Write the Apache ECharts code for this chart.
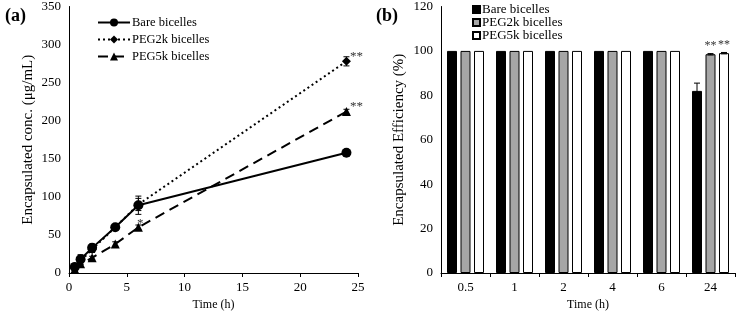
<!DOCTYPE html>
<html>
<head>
<meta charset="utf-8">
<script src="https://cdn.jsdelivr.net/npm/echarts@6/dist/echarts.min.js"></script>
<style>
  html, body { margin: 0; padding: 0; background: #fff; }
  #main { width: 737px; height: 316px; }
</style>
</head>
<body>
<div id="main"></div>
<script>
// (a) encapsulated concentration vs time
var timeH = [0.5, 1, 2, 4, 6, 24]
var bareConc = [8, 18, 33, 60, 89, 158]
var bareConcErr = [3, 6, 5, 2, 12, 2]
var peg2kConc = [7, 16, 31, 60, 90, 278]
var peg2kConcErr = [2, 5, 4, 2, 8, 6]
var peg5kConc = [5, 12, 20, 38, 60, 212]
var peg5kConcErr = [2, 3, 2, 3, 3, 3]
var peg2kSigA = ['', '', '', '', '', '**']
var peg5kSigA = ['', '', '', '', '*', '**']

// (b) encapsulation efficiency per time point
var timeCats = ['0.5', '1', '2', '4', '6', '24']
var bareEff = [100, 100, 100, 100, 100, 82]
var bareEffErr = [0, 0, 0, 0, 0, 3.5]
var peg2kEff = [100, 100, 100, 100, 100, 98.5]
var peg2kEffErr = [0, 0, 0, 0, 0, 0.3]
var peg5kEff = [100, 100, 100, 100, 100, 99]
var peg5kEffErr = [0, 0, 0, 0, 0, 0.3]
var peg2kSigB = ['', '', '', '', '', '**']
var peg5kSigB = ['', '', '', '', '', '**']

var FONT = 'Liberation Serif'

function pairs (xs, ys) {
  return xs.map(function (x, i) { return [x, ys[i]] })
}

function errData (xs, ys, es) {
  return xs.map(function (x, i) { return [x, ys[i], es[i]] })
}

// error bar drawer; offset shifts bar groups sideways in panel (b)
function errRender (offset) {
  return function (params, api) {
    var e = api.value(2)
    if (!e) return null
    var hi = api.coord([api.value(0), api.value(1) + e])
    var lo = api.coord([api.value(0), api.value(1) - e])
    var x = hi[0] + offset
    var st = { stroke: '#000', lineWidth: 1 }
    return {
      type: 'group',
      children: [
        { type: 'line', shape: { x1: x, y1: hi[1], x2: x, y2: lo[1] }, style: st },
        { type: 'line', shape: { x1: x - 3, y1: hi[1], x2: x + 3, y2: hi[1] }, style: st },
        { type: 'line', shape: { x1: x - 3, y1: lo[1], x2: x + 3, y2: lo[1] }, style: st }
      ],
      z2: 10
    }
  }
}

function sigLabel (sig, size) {
  return {
    show: true,
    position: 'top',
    distance: 2,
    color: '#333',
    fontFamily: FONT,
    fontSize: size,
    formatter: function (p) { return sig[p.dataIndex] }
  }
}

var axisText = { color: '#000', fontFamily: FONT, fontSize: 13 }
var nameText = { color: '#000', fontFamily: FONT, fontSize: 12 }
var yNameText = { color: '#000', fontFamily: FONT, fontSize: 15 }
var axisLine = { show: true, lineStyle: { color: '#000', width: 1 } }

var chart = echarts.init(document.getElementById('main'))
chart.setOption({
  animation: false,
  textStyle: { fontFamily: FONT },
  title: [
    { text: '(a)', left: 0, top: 2, textStyle: { fontFamily: FONT, fontSize: 18, fontWeight: 'bold', color: '#000' } },
    { text: '(b)', left: 371, top: 2, textStyle: { fontFamily: FONT, fontSize: 18, fontWeight: 'bold', color: '#000' } }
  ],
  legend: [
    {
      data: ['Bare bicelles', 'PEG2k bicelles', 'PEG5k bicelles'],
      orient: 'vertical',
      left: 92,
      top: 11,
      itemWidth: 32,
      itemHeight: 10,
      itemGap: 4,
      textStyle: { color: '#000', fontFamily: FONT, fontSize: 12.5, padding: [0, 0, 0, -3] }
    },
    {
      data: [
        { name: 'Bare bicelles ', icon: 'rect' },
        { name: 'PEG2k bicelles ', icon: 'rect' },
        { name: 'PEG5k bicelles ', icon: 'rect' }
      ],
      orient: 'vertical',
      left: 467,
      top: -2,
      itemWidth: 7,
      itemHeight: 7,
      itemGap: 0,
      textStyle: { color: '#000', fontFamily: FONT, fontSize: 13, padding: [0, 0, 0, -3] }
    }
  ],
  grid: [
    { left: 69, right: 379, top: 5, bottom: 38 },
    { left: 441, right: 2, top: 5, bottom: 38 }
  ],
  xAxis: [
    {
      gridIndex: 0,
      type: 'value',
      min: 0,
      max: 25,
      interval: 5,
      name: 'Time (h)',
      nameLocation: 'middle',
      nameGap: 26,
      nameTextStyle: nameText,
      axisLine: axisLine,
      axisTick: { show: true, length: 4, lineStyle: { color: '#000' } },
      axisLabel: axisText,
      splitLine: { show: false }
    },
    {
      gridIndex: 1,
      type: 'category',
      data: timeCats,
      name: 'Time (h)',
      nameLocation: 'middle',
      nameGap: 26,
      nameTextStyle: nameText,
      axisLine: axisLine,
      axisTick: { show: true, length: 4, lineStyle: { color: '#000' } },
      axisLabel: axisText
    }
  ],
  yAxis: [
    {
      gridIndex: 0,
      type: 'value',
      min: 0,
      max: 350,
      interval: 50,
      name: 'Encapsulated conc. (μg/mL)',
      nameLocation: 'middle',
      nameGap: 33,
      nameTextStyle: yNameText,
      axisLine: axisLine,
      axisTick: { show: false },
      axisLabel: axisText,
      splitLine: { show: false }
    },
    {
      gridIndex: 1,
      type: 'value',
      min: 0,
      max: 120,
      interval: 20,
      name: 'Encapsulated Efficiency (%)',
      nameLocation: 'middle',
      nameGap: 34,
      nameTextStyle: yNameText,
      axisLine: axisLine,
      axisTick: { show: false },
      axisLabel: axisText,
      splitLine: { show: false }
    }
  ],
  series: [
    {
      name: 'Bare bicelles',
      type: 'line',
      xAxisIndex: 0,
      yAxisIndex: 0,
      data: pairs(timeH, bareConc),
      symbol: 'circle',
      symbolSize: 10,
      lineStyle: { color: '#000', width: 2 },
      itemStyle: { color: '#000' },
      z: 4
    },
    {
      name: 'PEG2k bicelles',
      type: 'line',
      xAxisIndex: 0,
      yAxisIndex: 0,
      data: pairs(timeH, peg2kConc),
      symbol: 'diamond',
      symbolSize: 9,
      lineStyle: { color: '#000', width: 2, type: [2, 3] },
      itemStyle: { color: '#000' },
      label: sigLabel(peg2kSigA, 13),
      labelLayout: { dx: 10, dy: 8 },
      z: 3
    },
    {
      name: 'PEG5k bicelles',
      type: 'line',
      xAxisIndex: 0,
      yAxisIndex: 0,
      data: pairs(timeH, peg5kConc),
      symbol: 'triangle',
      symbolSize: 9,
      lineStyle: { color: '#000', width: 2, type: [10, 6] },
      itemStyle: { color: '#000' },
      label: sigLabel(peg5kSigA, 13),
      labelLayout: function (p) {
        return p.dataIndex === 5 ? { dx: 10, dy: 8 } : { dx: 2, dy: 9 }
      },
      z: 3
    },
    {
      type: 'custom',
      xAxisIndex: 0,
      yAxisIndex: 0,
      renderItem: errRender(0),
      data: errData(timeH, bareConc, bareConcErr),
      z: 5
    },
    {
      type: 'custom',
      xAxisIndex: 0,
      yAxisIndex: 0,
      renderItem: errRender(0),
      data: errData(timeH, peg2kConc, peg2kConcErr),
      z: 5
    },
    {
      type: 'custom',
      xAxisIndex: 0,
      yAxisIndex: 0,
      renderItem: errRender(0),
      data: errData(timeH, peg5kConc, peg5kConcErr),
      z: 5
    },
    {
      name: 'Bare bicelles ',
      type: 'bar',
      xAxisIndex: 1,
      yAxisIndex: 1,
      data: bareEff,
      barWidth: 10,
      barGap: '35%',
      itemStyle: { color: '#000', borderColor: '#000', borderWidth: 1 }
    },
    {
      name: 'PEG2k bicelles ',
      type: 'bar',
      xAxisIndex: 1,
      yAxisIndex: 1,
      data: peg2kEff,
      barWidth: 10,
      barGap: '35%',
      itemStyle: { color: '#a6a6a6', borderColor: '#000', borderWidth: 1 },
      label: sigLabel(peg2kSigB, 12)
    },
    {
      name: 'PEG5k bicelles ',
      type: 'bar',
      xAxisIndex: 1,
      yAxisIndex: 1,
      data: peg5kEff,
      barWidth: 10,
      barGap: '35%',
      itemStyle: { color: '#fff', borderColor: '#000', borderWidth: 1 },
      label: sigLabel(peg5kSigB, 12)
    },
    {
      type: 'custom',
      xAxisIndex: 1,
      yAxisIndex: 1,
      renderItem: errRender(-13.5),
      data: errData(timeCats, bareEff, bareEffErr),
      z: 5
    },
    {
      type: 'custom',
      xAxisIndex: 1,
      yAxisIndex: 1,
      renderItem: errRender(0),
      data: errData(timeCats, peg2kEff, peg2kEffErr),
      z: 5
    },
    {
      type: 'custom',
      xAxisIndex: 1,
      yAxisIndex: 1,
      renderItem: errRender(13.5),
      data: errData(timeCats, peg5kEff, peg5kEffErr),
      z: 5
    }
  ]
})
</script>
</body>
</html>
